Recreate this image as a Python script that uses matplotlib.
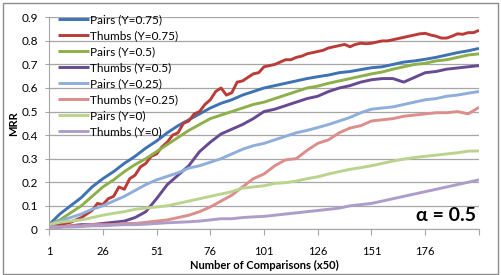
import matplotlib
matplotlib.use("Agg")
import matplotlib.pyplot as plt
from matplotlib.patches import Rectangle

# comparison index (x50), sampled every 5
x = list(range(1, 202, 5))
# the Thumbs (Y=0.75) curve is jagged, so it is read at a finer step
x_fine = [1 + 2.5 * i for i in range(81)]

pairs_075 = [0.02, 0.065, 0.10, 0.135, 0.18, 0.215, 0.245, 0.28, 0.31, 0.345,
             0.375, 0.41, 0.44, 0.465, 0.49, 0.515, 0.535, 0.55, 0.57, 0.585,
             0.60, 0.61, 0.62, 0.63, 0.64, 0.648, 0.655, 0.665, 0.67, 0.678,
             0.686, 0.69, 0.70, 0.71, 0.715, 0.722, 0.73, 0.74, 0.75, 0.758, 0.768]
thumbs_075 = [0.02, 0.02, 0.02, 0.025, 0.03, 0.04, 0.05, 0.065, 0.08, 0.11,
              0.105, 0.13, 0.14, 0.18, 0.17, 0.215, 0.23, 0.265, 0.28, 0.31,
              0.32, 0.35, 0.37, 0.40, 0.41, 0.45, 0.46, 0.49, 0.50, 0.53,
              0.55, 0.585, 0.60, 0.57, 0.58, 0.625, 0.63, 0.645, 0.66, 0.665,
              0.69, 0.695, 0.70, 0.71, 0.72, 0.72, 0.73, 0.735, 0.745, 0.75,
              0.755, 0.76, 0.77, 0.775, 0.78, 0.785, 0.775, 0.785, 0.79, 0.788,
              0.79, 0.795, 0.80, 0.80, 0.805, 0.81, 0.815, 0.82, 0.825, 0.83,
              0.832, 0.825, 0.82, 0.812, 0.812, 0.82, 0.83, 0.828, 0.835, 0.835,
              0.845]
pairs_05 = [0.02, 0.04, 0.07, 0.10, 0.14, 0.18, 0.21, 0.245, 0.275, 0.30,
            0.33, 0.36, 0.39, 0.42, 0.445, 0.47, 0.485, 0.50, 0.515, 0.53,
            0.54, 0.555, 0.57, 0.585, 0.60, 0.608, 0.62, 0.63, 0.64, 0.65,
            0.66, 0.668, 0.68, 0.69, 0.70, 0.705, 0.715, 0.72, 0.73, 0.74, 0.745]
thumbs_05 = [0.01, 0.01, 0.015, 0.02, 0.02, 0.025, 0.03, 0.035, 0.05, 0.075,
             0.13, 0.19, 0.23, 0.27, 0.33, 0.37, 0.405, 0.425, 0.445, 0.47,
             0.50, 0.51, 0.525, 0.54, 0.555, 0.565, 0.585, 0.60, 0.61, 0.625,
             0.635, 0.64, 0.64, 0.625, 0.645, 0.665, 0.67, 0.68, 0.685, 0.69, 0.695]
pairs_025 = [0.02, 0.035, 0.05, 0.065, 0.085, 0.10, 0.12, 0.14, 0.165, 0.19,
             0.21, 0.225, 0.24, 0.26, 0.27, 0.285, 0.30, 0.32, 0.34, 0.355,
             0.365, 0.38, 0.395, 0.41, 0.42, 0.432, 0.445, 0.46, 0.475, 0.495,
             0.51, 0.515, 0.52, 0.53, 0.54, 0.55, 0.555, 0.565, 0.57, 0.578, 0.585]
thumbs_025 = [0.01, 0.01, 0.015, 0.015, 0.02, 0.02, 0.02, 0.025, 0.025, 0.03,
              0.035, 0.04, 0.05, 0.06, 0.075, 0.095, 0.12, 0.145, 0.18, 0.215,
              0.235, 0.27, 0.295, 0.30, 0.335, 0.365, 0.38, 0.41, 0.43, 0.44,
              0.46, 0.465, 0.47, 0.48, 0.485, 0.49, 0.495, 0.495, 0.50, 0.49, 0.518]
pairs_0 = [0.02, 0.03, 0.035, 0.04, 0.05, 0.06, 0.068, 0.075, 0.085, 0.09,
           0.095, 0.10, 0.11, 0.12, 0.13, 0.14, 0.15, 0.16, 0.175, 0.18,
           0.185, 0.195, 0.198, 0.205, 0.215, 0.223, 0.235, 0.245, 0.255, 0.262,
           0.27, 0.28, 0.29, 0.298, 0.305, 0.31, 0.315, 0.32, 0.325, 0.332, 0.333]
thumbs_0 = [0.01, 0.01, 0.01, 0.012, 0.015, 0.015, 0.018, 0.02, 0.02, 0.022,
            0.025, 0.028, 0.03, 0.032, 0.035, 0.04, 0.045, 0.045, 0.05, 0.053,
            0.055, 0.06, 0.065, 0.07, 0.075, 0.08, 0.085, 0.09, 0.10, 0.105,
            0.11, 0.12, 0.13, 0.14, 0.15, 0.16, 0.17, 0.18, 0.19, 0.20, 0.21]

series = [
    ("Pairs (Υ=0.75)", x, pairs_075, "#3E72B2"),
    ("Thumbs (Υ=0.75)", x_fine, thumbs_075, "#BB3B38"),
    ("Pairs (Υ=0.5)", x, pairs_05, "#8DB04B"),
    ("Thumbs (Υ=0.5)", x, thumbs_05, "#684A93"),
    ("Pairs (Υ=0.25)", x, pairs_025, "#8FAEDA"),
    ("Thumbs (Υ=0.25)", x, thumbs_025, "#DC8E8C"),
    ("Pairs (Υ=0)", x, pairs_0, "#BAD48F"),
    ("Thumbs (Υ=0)", x, thumbs_0, "#AE9DCB"),
]

xticks = [1, 26, 51, 76, 101, 126, 151, 176, 201]
xtick_labels = ["1", "26", "51", "76", "101", "126", "151", "176", ""]

plt.rcParams["font.family"] = ["Lato", "DejaVu Sans"]

fig = plt.figure(figsize=(5.01, 2.75), dpi=100)
ax = fig.add_axes([0.098, 0.166, 0.858, 0.771])

for label, xs, vals, col in series:
    ax.plot(xs, vals, color=col, lw=2.1, label=label, solid_capstyle="butt")

ax.set_xlim(1, 201)
ax.set_ylim(0, 0.9)
ax.set_yticks([i / 10 for i in range(10)])
ax.set_yticklabels(["0"] + [f"{i/10:.1f}" for i in range(1, 10)])
ax.set_xticks(xticks)
ax.set_xticklabels(xtick_labels)
ax.yaxis.grid(True, color="#A6A6A6", lw=0.9)
ax.set_axisbelow(True)
for s in ["top", "right"]:
    ax.spines[s].set_visible(False)
for s in ["left", "bottom"]:
    ax.spines[s].set_color("#A6A6A6")
ax.tick_params(axis="y", length=3, color="#A6A6A6", labelsize=8.5, pad=5)
ax.tick_params(axis="x", length=4, color="#A6A6A6", labelsize=8, pad=8)

ax.set_ylabel("MRR", fontsize=8, fontweight="bold", labelpad=2)
ax.set_xlabel("Number of Comparisons (x50)", fontsize=8, fontweight="bold", labelpad=2)

ax.legend(loc="upper left", bbox_to_anchor=(0.01, 1.035), frameon=False,
          fontsize=8.5, handlelength=2.6, handletextpad=0.1,
          labelspacing=0.42, borderaxespad=0)

ax.text(0.993, 0.067, "α = 0.5", transform=ax.transAxes, ha="right", va="center",
        fontsize=14, fontweight="bold")

fig.patches.append(Rectangle((0.006, 0.004), 0.988, 0.985, transform=fig.transFigure,
                             fill=False, edgecolor="#8C8C8C", lw=1))

fig.savefig("out.png", dpi=100)
